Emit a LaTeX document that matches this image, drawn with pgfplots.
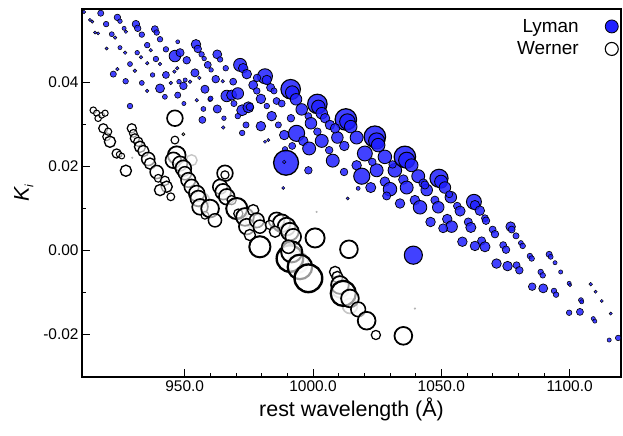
\documentclass[border=0pt]{standalone}
\usepackage{pgfplots}
\pgfplotsset{compat=1.18}
\usepackage{fontspec}
\setmainfont{Liberation Sans}
\definecolor{lyman}{RGB}{32,32,255}
\pgfplotstableread{
x y r
910.8 0.0567 1
917.3 0.0564 2.3
919.4 0.0538 2
913.1 0.0548 0.8
914.0 0.0544 0.8
923.8 0.0554 2.5
924.8 0.0545 1.5
926.4 0.0528 1.3
927.1 0.0520 1
931.0 0.0538 3
931.7 0.0528 2.5
933.3 0.0513 2
938.4 0.0526 2.7
939.1 0.0518 2
940.4 0.0502 2
935.4 0.0488 2
936.8 0.0476 1
942.7 0.0478 2
947.3 0.0496 1.2
946.2 0.0462 5
948.2 0.0470 3.3
950.8 0.0452 3
954.4 0.0490 4
955.1 0.0479 3
956.6 0.0466 2
957.6 0.0456 1.5
962.7 0.0466 3.7
963.8 0.0454 2
959.0 0.0441 2.7
960.3 0.0429 1.5
966.0 0.0433 2
971.6 0.0441 5.7
972.8 0.0433 4
974.2 0.0419 4
976.7 0.0393 3.7
978.1 0.0379 2.5
915.1 0.0518 0.8
916.3 0.0516 0.8
921.6 0.0514 1.7
922.9 0.0506 1
919.6 0.0480 0.8
924.8 0.0482 1.3
926.8 0.0470 1
928.7 0.0443 1.7
930.6 0.0427 1
931.5 0.0470 1.5
933.0 0.0459 1
935.4 0.0445 1
937.5 0.0417 1.5
938.8 0.0455 2
940.4 0.0443 1
942.7 0.0417 2.7
944.6 0.0398 1
946.0 0.0425 1
947.1 0.0433 1
947.8 0.0401 1.5
949.5 0.0391 3
950.2 0.0405 1.3
952.1 0.0401 1
954.0 0.0422 3.3
955.7 0.0410 1
957.9 0.0383 3.3
959.9 0.0359 1.5
962.1 0.0407 3
964.8 0.0402 1
968.9 0.0401 2.7
922.2 0.0419 2.3
923.8 0.0431 1
927.0 0.0402 2
933.3 0.0398 1.7
935.4 0.0379 1
940.4 0.0385 3.7
942.3 0.0365 1.7
947.3 0.0369 2.3
949.7 0.0349 1.3
954.7 0.0357 1
960.1 0.0361 1.7
962.7 0.0336 3.3
965.3 0.0314 1.5
957.3 0.0336 1.7
956.9 0.0310 2.7
966.4 0.0367 5
968.3 0.0369 4.3
970.7 0.0373 5
969.2 0.0349 2.3
972.4 0.0333 4.7
974.8 0.0340 4.7
973.9 0.0298 2.3
970.7 0.0319 2
928.7 0.0343 2
972.4 0.0279 2
965.0 0.0292 1
981.3 0.0414 6.7
982.0 0.0405 4
983.5 0.0387 3.3
984.8 0.0379 2.3
979.7 0.0360 4
985.8 0.0355 2.7
987.8 0.0349 2.7
975.4 0.0341 3
982.0 0.0343 2
991.3 0.0383 9
991.9 0.0375 6
993.4 0.0359 5
995.6 0.0335 5
998.2 0.0319 2.7
999.2 0.0302 5
983.9 0.0319 4
986.5 0.0298 2.3
991.4 0.0314 3
979.7 0.0295 4
1001.7 0.0348 9
1002.1 0.0341 6
1003.4 0.0326 5
1004.7 0.0314 4
1006.6 0.0298 4
1012.8 0.0311 10
1013.4 0.0306 7
1014.7 0.0294 5.5
988.8 0.0274 4
993.6 0.0278 7.3
996.2 0.0260 4
998.5 0.0242 5.7
991.9 0.0248 2.7
989.1 0.0240 2
1001.7 0.0282 3
1003.4 0.0260 5.7
1006.3 0.0238 3
1007.7 0.0213 5.7
1012.1 0.0186 3
1009.5 0.0268 5
1012.2 0.0248 4
1008.6 0.0290 4
1017.0 0.0268 5.7
1020.2 0.0230 6.7
1017.0 0.0202 4
1019.0 0.0176 7.3
1022.5 0.0149 4.3
1017.6 0.0147 1.2
1013.5 0.0123 0.8
988.4 0.0148 0.8
981.3 0.0258 0.8
982.6 0.0262 0.8
989.5 0.0208 11.7
988.8 0.0210 1
998.2 0.0190 3
1024.1 0.0270 10
1024.8 0.0260 7.3
1025.4 0.0250 6
1028.0 0.0222 6
1031.9 0.0190 6
1035.8 0.0222 10
1036.5 0.0214 7.3
1038.4 0.0202 5.7
1041.0 0.0176 5.7
1043.0 0.0159 3.7
1044.3 0.0143 5
1031.0 0.0204 3
1035.2 0.0168 4
1036.5 0.0149 5.7
1039.7 0.0119 4
1041.7 0.0102 6
1028.0 0.0163 4
1030.0 0.0145 6
1028.7 0.0129 3.3
1033.9 0.0111 4
1024.8 0.0190 5.7
1023.1 0.0210 3
1049.1 0.0171 8.3
1049.9 0.0163 5.7
1051.4 0.0149 5
1043.6 0.0155 3.3
1053.7 0.0126 5
1053.1 0.0133 2.7
1047.5 0.0119 3.3
1048.8 0.0102 5
1062.7 0.0115 6.7
1063.1 0.0107 4
1065.0 0.0094 4
1056.2 0.0105 3
1057.3 0.0093 4.3
1067.0 0.0076 2.7
1067.4 0.0070 3
1045.8 0.0067 4
1052.3 0.0074 4
1054.0 0.0056 5
1050.7 0.0052 3.7
1060.5 0.0067 3.3
1061.5 0.0054 4.3
1070.0 0.0049 2.7
1070.9 0.0038 3
1077.0 0.0056 4
1077.4 0.0049 2.7
1079.1 0.0034 2.3
1058.2 0.0020 4
1063.1 0.0010 4
1065.7 0.0022 3.3
1067.0 0.0008 4.3
1074.1 0.0012 2.7
1075.2 0.0001 3
1081.0 0.0017 1.7
1081.7 0.0010 2
1071.5 -0.0032 4
1075.8 -0.0038 4
1079.3 -0.0036 2.7
1080.4 -0.0048 3
1084.5 -0.0014 2
1085.2 -0.0020 2
1092.0 -0.0010 2.3
1092.6 -0.0016 1.7
1094.3 -0.0030 1.3
1096.5 -0.0052 1.3
1088.7 -0.0052 2
1089.5 -0.0060 2
1085.4 -0.0087 3
1089.7 -0.0091 3.7
1093.9 -0.0097 2
1094.7 -0.0106 2
1099.8 -0.0079 1.3
1100.1 -0.0083 1
1104.4 -0.0119 1.7
1104.7 -0.0123 1.3
1099.8 -0.0149 2
1104.0 -0.0147 2.7
1108.2 -0.0081 1
1110.1 -0.0099 0.8
1112.5 -0.0121 0.8
1109.2 -0.0163 1.3
1109.8 -0.0169 1.3
1116.0 -0.0151 0.8
1115.4 -0.0214 1.3
1118.9 -0.0209 2
1039.1 -0.0012 8.3
978.2 0.0410 3
}\lymantable
\pgfplotstableread{
x y r
1001.4 0.0091 0.8
1039.7 -0.0139 0.8
929.6 0.0220 0.8
}\graydots
\pgfplotstableread{
x y r
914.4 0.0333 2.7
915.7 0.0326 2.5
916.3 0.0314 2.7
917.7 0.0321 2.3
919.0 0.0326 2.5
918.3 0.0290 4
919.6 0.0270 3.3
920.2 0.0282 3
920.9 0.0258 5
923.5 0.0230 4
924.5 0.0228 2.3
925.5 0.0224 2.3
927.1 0.0189 5
929.4 0.0290 4
930.0 0.0278 3.3
930.6 0.0266 4
931.9 0.0258 4
932.6 0.0246 5
933.9 0.0236 5
935.8 0.0217 6
936.5 0.0206 5
939.1 0.0186 6
939.7 0.0171 3.3
942.3 0.0165 4
943.0 0.0151 5
940.4 0.0143 5
944.6 0.0127 3.3
946.2 0.0314 7.3
946.2 0.0262 3.3
949.5 0.0276 0.8
946.9 0.0226 8.3
945.6 0.0214 7.3
948.2 0.0206 6.7
949.5 0.0195 7.3
950.1 0.0183 6
951.4 0.0167 6.7
952.7 0.0151 6.7
954.7 0.0135 7.3
955.3 0.0123 7.3
956.0 0.0103 7.3
957.9 0.0083 3.3
959.9 0.0099 8.3
961.8 0.0071 6
965.7 0.0183 7.3
965.7 0.0179 3.5
963.8 0.0151 6.7
965.0 0.0139 7.3
966.4 0.0127 7.3
968.3 0.0119 4
970.3 0.0099 10
970.9 0.0087 4
973.5 0.0079 8.3
974.2 0.0056 7.3
975.4 0.0036 5
976.7 0.0095 5
978.1 0.0071 6.7
979.3 0.0056 6
985.8 0.0071 7.3
987.8 0.0064 8.3
989.7 0.0056 8.3
991.0 0.0044 8.3
992.3 0.0032 7.3
983.2 0.0060 4
985.2 0.0044 5
979.3 0.0008 10
991.0 -0.0020 12.7
991.7 -0.0004 10
994.9 -0.0040 11.7
998.2 -0.0067 13.3
1000.8 0.0029 9
990.4 0.0008 6
1014.0 0.0002 8.3
1008.6 -0.0052 5
1009.5 -0.0064 5
1010.5 -0.0083 8.3
1011.8 -0.0103 12
1014.4 -0.0115 8.3
1017.6 -0.0141 6.7
1020.9 -0.0168 8.3
1024.5 -0.0202 4
1035.2 -0.0204 8.3
}\wernertable
\pgfplotstableread{
x y r
976.7 0.0071 7.3
952.7 0.0214 5
994.1 -0.0029 10
1010.6 -0.0093 8
1014.4 -0.0133 7
956.7 0.0119 7
1009.5 -0.0060 4
}\wernergray
\pgfplotsset{
  bubble/.style 2 args={only marks, scatter, mark=*,
    visualization depends on={#1 \as \rad},
    visualization depends on={#2 \as \lw},
    scatter/@pre marker code/.append style={/tikz/mark size=\rad},
    scatter/@pre marker code/.append code={\pgfsetlinewidth{\lw pt}},
  },
}
\begin{document}
\begin{tikzpicture}
\useasboundingbox (-82bp,-59bp) rectangle (541bp,377bp);
\begin{axis}[
  scale only axis, width=539bp, height=368bp,
  xmin=910, xmax=1120, ymin=-0.0302, ymax=0.0574,
  axis line style={line width=1.1pt},
  tick align=inside, xtick pos=bottom, ytick pos=left,
  xtick={950,1000,1050,1100}, xticklabels={950.0,1000.0,1050.0,1100.0},
  ytick={-0.02,0,0.02,0.04}, yticklabels={-0.02,0.00,0.02,0.04},
  minor x tick num=4, minor y tick num=1,
  major tick length=8bp, minor tick length=4bp,
  tick style={line width=1pt, black},
  ticklabel style={font=\fontsize{15.5}{18}\selectfont},
  xlabel={rest wavelength (Å)},
  ylabel={{\itshape K}\raisebox{-0.4ex}{\fontsize{12}{12}\selectfont\itshape i}},
  label style={font=\fontsize{21.5}{24}\selectfont},
  ylabel style={yshift=3bp},
  legend plot pos=right,
  legend cell align=right,
  legend style={at={(rel axis cs:1,1)}, anchor=north east, xshift=1bp, yshift=-6bp,
    draw=none, fill=none, font=\fontsize{19}{22}\selectfont, row sep=4bp, column sep=24bp},
]
\addplot[scatter/use mapped color={draw=black, fill=lyman},
  bubble={\thisrow{r}+0.8}{0.4+0.08*\thisrow{r}},
  mark options={fill opacity=0.85},
  legend image code/.code={\draw[black, fill=lyman, line width=0.8pt] (6.5bp,0bp) circle (6.5bp);}]
  table[x=x, y=y] {\lymantable};
\addlegendentry{Lyman}
\addplot[forget plot, scatter/use mapped color={draw=gray!60, fill=gray!60}, bubble={\thisrow{r}}{0.5}]
  table[x=x, y=y] {\graydots};
\addplot[forget plot, scatter/use mapped color={draw=black!22, fill=white},
  bubble={\thisrow{r}+0.5}{0.8+0.12*\thisrow{r}},
  mark options={fill opacity=0.5}]
  table[x=x, y=y] {\wernergray};
\addplot[scatter/use mapped color={draw=black, fill=white},
  bubble={\thisrow{r}+0.6}{0.7+0.13*\thisrow{r}},
  mark options={fill opacity=0.6},
  legend image code/.code={\draw[black, fill=white, line width=1.1pt] (6.5bp,0bp) circle (6.5bp);}]
  table[x=x, y=y] {\wernertable};
\addlegendentry{Werner}
\end{axis}
\end{tikzpicture}
\end{document}
